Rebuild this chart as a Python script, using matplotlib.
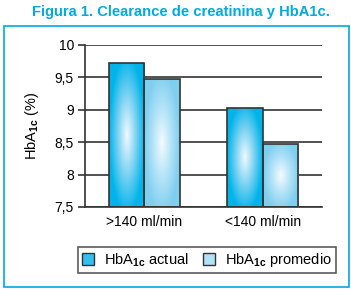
import numpy as np
import matplotlib.pyplot as plt
from matplotlib.colors import LinearSegmentedColormap
from matplotlib.patches import Rectangle

categorias = [">140 ml/min", "<140 ml/min"]
hba1c_actual = [9.72, 9.03]
hba1c_promedio = [9.47, 8.47]
series = ["HbA$_{\\mathbf{1c}}$ actual", "HbA$_{\\mathbf{1c}}$ promedio"]

plt.rcParams['font.family'] = ['Liberation Sans', 'DejaVu Sans']
plt.rcParams['mathtext.fontset'] = 'custom'
plt.rcParams['mathtext.rm'] = 'Liberation Sans'
plt.rcParams['mathtext.bf'] = 'Liberation Sans:bold'

azul = "#00a9e0"
cmap_actual = LinearSegmentedColormap.from_list("a", ["#f2fafe", "#7fd3f3", "#00b4ea"])
cmap_prom = LinearSegmentedColormap.from_list("p", ["#f4fbfe", "#b5e4f8", "#7fcfef"])

fig = plt.figure(figsize=(3.51, 2.92), dpi=100)
fig.patches.append(Rectangle((4 / 351, 5 / 292), 345 / 351, 261 / 292, transform=fig.transFigure,
                             fill=False, edgecolor=azul, lw=1.2))
fig.text(181 / 351, 1 - 12 / 292, "Figura 1. Clearance de creatinina y HbA1c.", ha="center", va="center",
         color=azul, fontsize=10.6, fontweight="bold")

ax = fig.add_axes([85 / 351, 1 - 207 / 292, 237 / 351, 162 / 292])
ax.set_ylim(7.5, 10)
ax.set_xlim(-0.5, 1.5)
ancho = 0.3
x = np.arange(len(categorias))


def barra_degradado(xc, valor, cmap):
    x0, x1 = xc - ancho / 2, xc + ancho / 2
    yy, xx = np.mgrid[0:1:200j, 0:1:60j]
    r = np.sqrt(((xx - 0.5) / 0.5) ** 2 + ((yy - 0.5) / 0.55) ** 2)
    img = np.clip(r, 0, 1)
    im = ax.imshow(img, cmap=cmap, extent=(x0, x1, 7.5, valor), aspect="auto", origin="lower",
                   vmin=0, vmax=1, zorder=2)
    rect = Rectangle((x0, 7.5), ancho, valor - 7.5, fill=False, edgecolor="#333333", lw=1.2, zorder=3)
    ax.add_patch(rect)
    im.set_clip_path(rect)


for i in range(len(categorias)):
    barra_degradado(x[i] - ancho / 2, hba1c_actual[i], cmap_actual)
    barra_degradado(x[i] + ancho / 2, hba1c_promedio[i], cmap_prom)

ax.set_aspect("auto")
ax.set_yticks([7.5, 8, 8.5, 9, 9.5, 10])
ax.set_yticklabels(["7,5", "8", "8,5", "9", "9,5", "10"])
ax.set_xticks(x)
ax.set_xticklabels(categorias)
ax.tick_params(axis="x", length=0, pad=6, labelsize=10)
ax.tick_params(axis="y", length=5, width=1.2, color="#333333", labelsize=10, pad=3)
ax.yaxis.grid(True, color="#333333", lw=1.2, zorder=0)
ax.set_axisbelow(True)
for s in ["top", "right"]:
    ax.spines[s].set_visible(False)
ax.spines["left"].set_color("#333333")
ax.spines["bottom"].set_color("#333333")
ax.spines["left"].set_linewidth(1.2)
ax.spines["bottom"].set_linewidth(1.2)
ax.set_ylabel("HbA$_{\\mathbf{1c}}$ (%)", fontsize=10.5, labelpad=10)

handles = [Rectangle((0, 0), 1, 1, facecolor="#33c0ee", edgecolor="#333333", lw=1),
           Rectangle((0, 0), 1, 1, facecolor="#b0e2f7", edgecolor="#333333", lw=1)]
leg = fig.legend(handles, series, loc="center", bbox_to_anchor=(207 / 351, 1 - 260 / 292),
                 ncol=2, fontsize=10.5, frameon=True, fancybox=False, handlelength=0.8, handleheight=0.8,
                 handletextpad=0.7, columnspacing=1.0, borderpad=0.3)
leg.get_frame().set_edgecolor("#333333")
leg.get_frame().set_linewidth(1.2)

fig.savefig("out.png", dpi=100)
